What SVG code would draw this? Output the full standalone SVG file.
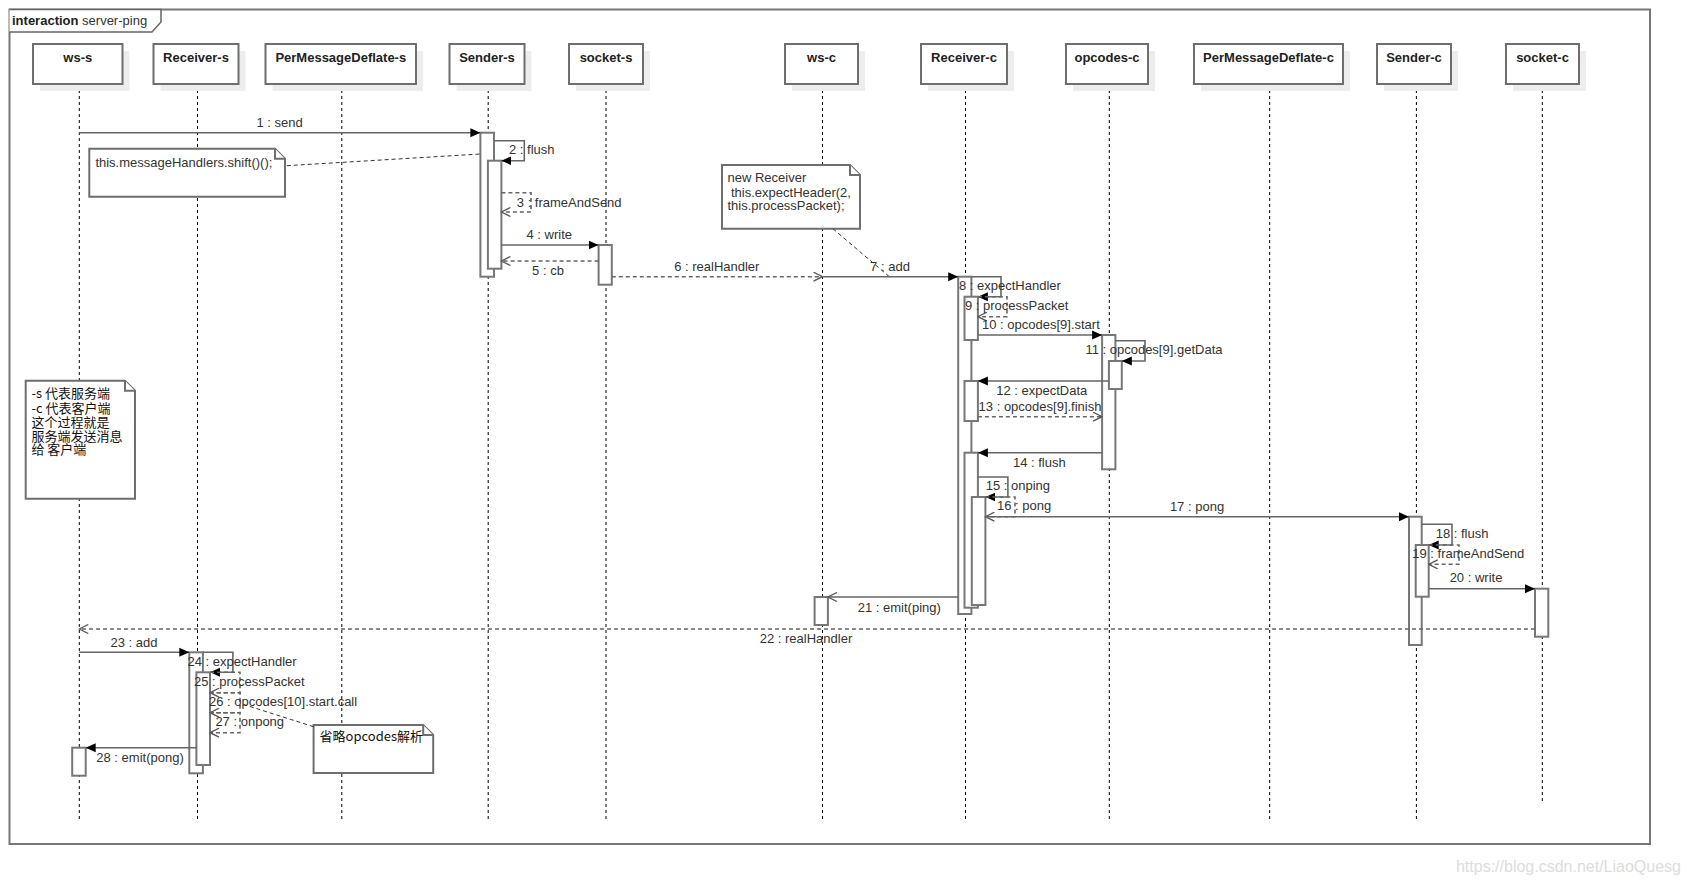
<svg xmlns="http://www.w3.org/2000/svg" width="1690" height="885" viewBox="0 0 1690 885">
<style>
text{font-family:"Liberation Sans",Arial,"Noto Sans CJK SC",sans-serif;font-size:13px;fill:#333}
.hd{font-weight:bold;fill:#222;text-anchor:middle}
.c{text-anchor:middle}
.head{fill:#fff;stroke:#6e6e6e;stroke-width:2}
.shadow{fill:#ededed;stroke:none}
.life{stroke:#000;stroke-width:1;stroke-dasharray:3 3;fill:none}
.act{fill:#fff;stroke:#777;stroke-width:2}
.msg{fill:none;stroke:#666;stroke-width:1.6}
.ret{fill:none;stroke:#666;stroke-width:1.6;stroke-dasharray:4 3}
.note{fill:#fff;stroke:#6e6e6e;stroke-width:2}
.link{fill:none;stroke:#333;stroke-width:1;stroke-dasharray:4 3}
.cjk{font-family:"Noto Sans CJK SC","Liberation Sans",sans-serif;fill:#111}
</style>
<defs>
<marker id="fa" markerWidth="11" markerHeight="10" refX="10" refY="5" orient="auto" markerUnits="userSpaceOnUse"><path d="M0,0.5 L10,5 L0,9.5 z" fill="#000"/></marker>
<marker id="oa" markerWidth="11" markerHeight="10" refX="10" refY="5" orient="auto" markerUnits="userSpaceOnUse"><path d="M1,0.5 L10,5 L1,9.5" fill="none" stroke="#555" stroke-width="1.3"/></marker>
</defs>
<rect width="1690" height="885" fill="#fff"/>
<g id="frame">
<rect x="9.5" y="9.5" width="1640.5" height="834.5" fill="none" stroke="#777" stroke-width="2"/>
<path d="M9.5,9.5 H161 V22 L152,32 H9.5" fill="#fff" stroke="#666" stroke-width="1.5"/>
<text x="12" y="25"><tspan font-weight="bold" fill="#222">interaction</tspan> server-ping</text>
</g>
<g id="lifelines">
<path class="life" d="M79.3,84 V820 M197.5,84 V820 M341.8,84 V820 M488.2,84 V820 M606,84 V820 M822.5,84 V820 M965.5,84 V820 M1109.3,84 V820 M1269.7,84 V820 M1416.4,84 V820 M1542.3,84 V802"/>
</g>
<g id="ws-s"><rect class="shadow" x="40" y="51" width="89.5" height="40"/><rect class="head" x="33" y="44" width="89.5" height="40"/><text class="hd" x="77.8" y="62">ws-s</text></g>
<g id="receiver-s"><rect class="shadow" x="160.5" y="51" width="85" height="40"/><rect class="head" x="153.5" y="44" width="85" height="40"/><text class="hd" x="196" y="62">Receiver-s</text></g>
<g id="pmd-s"><rect class="shadow" x="272.5" y="51" width="150.5" height="40"/><rect class="head" x="265.5" y="44" width="150.5" height="40"/><text class="hd" x="340.8" y="62">PerMessageDeflate-s</text></g>
<g id="sender-s"><rect class="shadow" x="456.5" y="51" width="75" height="40"/><rect class="head" x="449.5" y="44" width="75" height="40"/><text class="hd" x="487" y="62">Sender-s</text></g>
<g id="socket-s"><rect class="shadow" x="576" y="51" width="74" height="40"/><rect class="head" x="569" y="44" width="74" height="40"/><text class="hd" x="606" y="62">socket-s</text></g>
<g id="ws-c"><rect class="shadow" x="792" y="51" width="73" height="40"/><rect class="head" x="785" y="44" width="73" height="40"/><text class="hd" x="821.5" y="62">ws-c</text></g>
<g id="receiver-c"><rect class="shadow" x="928" y="51" width="86" height="40"/><rect class="head" x="921" y="44" width="86" height="40"/><text class="hd" x="964" y="62">Receiver-c</text></g>
<g id="opcodes-c"><rect class="shadow" x="1073" y="51" width="82" height="40"/><rect class="head" x="1066" y="44" width="82" height="40"/><text class="hd" x="1107" y="62">opcodes-c</text></g>
<g id="pmd-c"><rect class="shadow" x="1201" y="51" width="149" height="40"/><rect class="head" x="1194" y="44" width="149" height="40"/><text class="hd" x="1268.5" y="62">PerMessageDeflate-c</text></g>
<g id="sender-c"><rect class="shadow" x="1384" y="51" width="74" height="40"/><rect class="head" x="1377" y="44" width="74" height="40"/><text class="hd" x="1414" y="62">Sender-c</text></g>
<g id="socket-c"><rect class="shadow" x="1513" y="51" width="73" height="40"/><rect class="head" x="1506" y="44" width="73" height="40"/><text class="hd" x="1542.5" y="62">socket-c</text></g>

<g id="note-shift">
<path class="note" d="M89.3,148.7 H275 L285,158.7 V196.7 H89.3 Z"/><path class="note" d="M275,148.7 V158.7 H285" fill="none"/>
<text x="95.4" y="166.8">this.messageHandlers.shift()();</text>
</g>
<g id="note-receiver">
<path class="note" d="M722,165 H850 L860,175 V228.7 H722 Z"/><path class="note" d="M850,165 V175 H860" fill="none"/>
<text x="727.5" y="182.2">new Receiver<tspan x="731" dy="14.6">this.expectHeader(2,</tspan><tspan x="727.5" dy="13.4">this.processPacket);</tspan></text>
</g>
<g id="note-legend">
<path class="note" d="M25.7,380.7 H125 L135,390.7 V498.7 H25.7 Z"/><path class="note" d="M125,380.7 V390.7 H135" fill="none"/>
<text class="cjk" x="31.4" y="397.8">-s 代表服务端<tspan x="31.4" dy="15.4">-c 代表客户端</tspan><tspan x="31.4" dy="13.6">这个过程就是</tspan><tspan x="31.4" dy="13.7">服务端发送消息</tspan><tspan x="31.4" dy="13.3">给 客户端</tspan></text>
</g>
<g id="note-opcodes">
<path class="note" d="M313.6,725 H423.2 L433.2,735 V773 H313.6 Z"/><path class="note" d="M423.2,725 V735 H433.2" fill="none"/>
<text class="cjk" x="319.6" y="741.2">省略opcodes解析</text>
</g>

<g id="activations">
<rect class="act" x="480.4" y="132.7" width="13.6" height="144"/>
<rect class="act" x="487.9" y="160.7" width="13.5" height="108"/>
<rect class="act" x="598.6" y="245" width="13.2" height="39.7"/>
<rect class="act" x="958.2" y="276.7" width="13.2" height="337.3"/>
<rect class="act" x="964.5" y="296.7" width="13.4" height="43.3"/>
<rect class="act" x="964.5" y="381" width="13.4" height="40"/>
<rect class="act" x="964.5" y="452.7" width="13.4" height="155"/>
<rect class="act" x="971.8" y="497" width="13.6" height="108"/>
<rect class="act" x="1102.1" y="335" width="13.3" height="134.3"/>
<rect class="act" x="1108.9" y="361" width="12.9" height="28"/>
<rect class="act" x="1409" y="516.7" width="12.7" height="128.3"/>
<rect class="act" x="1415.7" y="545" width="13" height="51.7"/>
<rect class="act" x="1535" y="588.7" width="13.3" height="48"/>
<rect class="act" x="814.6" y="597" width="13.3" height="28"/>
<rect class="act" x="189.3" y="652.3" width="13.6" height="121"/>
<rect class="act" x="196.4" y="672.3" width="13.6" height="92.7"/>
<rect class="act" x="72.2" y="747.7" width="13.5" height="28"/>
</g>

<g id="connectors">
<path class="link" d="M286.8,165.7 L480.4,154"/>
<path class="link" d="M832.9,228.7 L889.3,276.7"/>
<path class="link" d="M313.6,726.7 L240,703.3"/>
<path class="msg" marker-end="url(#fa)" d="M79.3,132.7 H480.4"/>
<path class="msg" marker-end="url(#fa)" d="M494,140.7 H524.3 V160.7 H501.4"/>
<path class="ret" marker-end="url(#oa)" d="M501.4,192.7 H531 V212 H501.4"/>
<path class="msg" marker-end="url(#fa)" d="M501.4,245 H598.6"/>
<path class="ret" marker-end="url(#oa)" d="M598.6,261 H501.4"/>
<path class="ret" marker-end="url(#oa)" d="M611.8,276.7 H822.5"/>
<path class="msg" marker-end="url(#fa)" d="M822.5,276.7 H958.2"/>
<path class="msg" marker-end="url(#fa)" d="M971.4,276.7 H1001 V296.7 H977.9"/>
<path class="ret" marker-end="url(#oa)" d="M977.9,296.7 H1007 V316.7 H977.9"/>
<path class="msg" marker-end="url(#fa)" d="M977.9,335 H1102.1"/>
<path class="msg" marker-end="url(#fa)" d="M1115.4,340.7 H1145 V361 H1121.8"/>
<path class="msg" marker-end="url(#fa)" d="M1108.9,381 H977.9"/>
<path class="ret" marker-end="url(#oa)" d="M977.9,416.7 H1102.1"/>
<path class="msg" marker-end="url(#fa)" d="M1102.1,452.7 H977.9"/>
<path class="msg" marker-end="url(#fa)" d="M977.9,477 H1007.9 V497 H985.4"/>
<path class="ret" marker-end="url(#oa)" d="M985.4,497 H1015 V516.7 H985.4"/>
<path class="msg" marker-end="url(#fa)" d="M985.4,516.7 H1409"/>
<path class="msg" marker-end="url(#fa)" d="M1421.7,524.3 H1452 V545 H1428.7"/>
<path class="ret" marker-end="url(#oa)" d="M1428.7,545 H1459 V564.3 H1428.7"/>
<path class="msg" marker-end="url(#fa)" d="M1428.7,588.7 H1535"/>
<path class="msg" marker-end="url(#oa)" d="M958.2,597 H827.9"/>
<path class="ret" marker-end="url(#oa)" d="M1535,629 H79.3"/>
<path class="msg" marker-end="url(#fa)" d="M79.3,652.3 H189.3"/>
<path class="msg" marker-end="url(#fa)" d="M202.9,652.3 H232.9 V672.3 H210"/>
<path class="ret" marker-end="url(#oa)" d="M210,672.3 H240 V692.7 H210"/>
<path class="ret" marker-end="url(#oa)" d="M210,692.7 H240 V712.7 H210"/>
<path class="ret" marker-end="url(#oa)" d="M210,712.7 H240 V732.7 H210"/>
<path class="msg" marker-end="url(#fa)" d="M196.4,747.7 H85.7"/>
</g>

<g id="labels">
<text class="c" x="279.6" y="126.8">1 : send</text>
<text x="509" y="153.8">2 : flush</text>
<text x="516.8" y="206.5">3 : frameAndSend</text>
<text class="c" x="549.3" y="238.8">4 : write</text>
<text class="c" x="548" y="274.8">5 : cb</text>
<text class="c" x="716.8" y="270.5">6 : realHandler</text>
<text class="c" x="890" y="270.5">7 : add</text>
<text x="959" y="290.2">8 : expectHandler</text>
<text x="965" y="310.2">9 : processPacket</text>
<text x="982" y="329.2">10 : opcodes[9].start</text>
<text x="1085.4" y="354.2">11 : opcodes[9].getData</text>
<text class="c" x="1041.8" y="395.2">12 : expectData</text>
<text x="978.6" y="410.5">13 : opcodes[9].finish</text>
<text class="c" x="1039.3" y="466.8">14 : flush</text>
<text x="985.7" y="490.2">15 : onping</text>
<text x="997" y="510.2">16 : pong</text>
<text class="c" x="1197" y="511.2">17 : pong</text>
<text x="1435.7" y="537.8">18 : flush</text>
<text x="1412.3" y="557.8">19 : frameAndSend</text>
<text class="c" x="1476" y="582.2">20 : write</text>
<text class="c" x="899.3" y="611.5">21 : emit(ping)</text>
<text class="c" x="806" y="642.8">22 : realHandler</text>
<text class="c" x="134" y="646.8">23 : add</text>
<text x="187.5" y="666.2">24 : expectHandler</text>
<text x="194" y="686.2">25 : processPacket</text>
<text x="209" y="706.2">26 : opcodes[10].start.call</text>
<text x="215.4" y="726.2">27 : onpong</text>
<text class="c" x="140" y="761.8">28 : emit(pong)</text>
</g>
<text x="1681" y="872" text-anchor="end" style="font-size:16px;fill:#dcdcdc">https://blog.csdn.net/LiaoQuesg</text>
</svg>
